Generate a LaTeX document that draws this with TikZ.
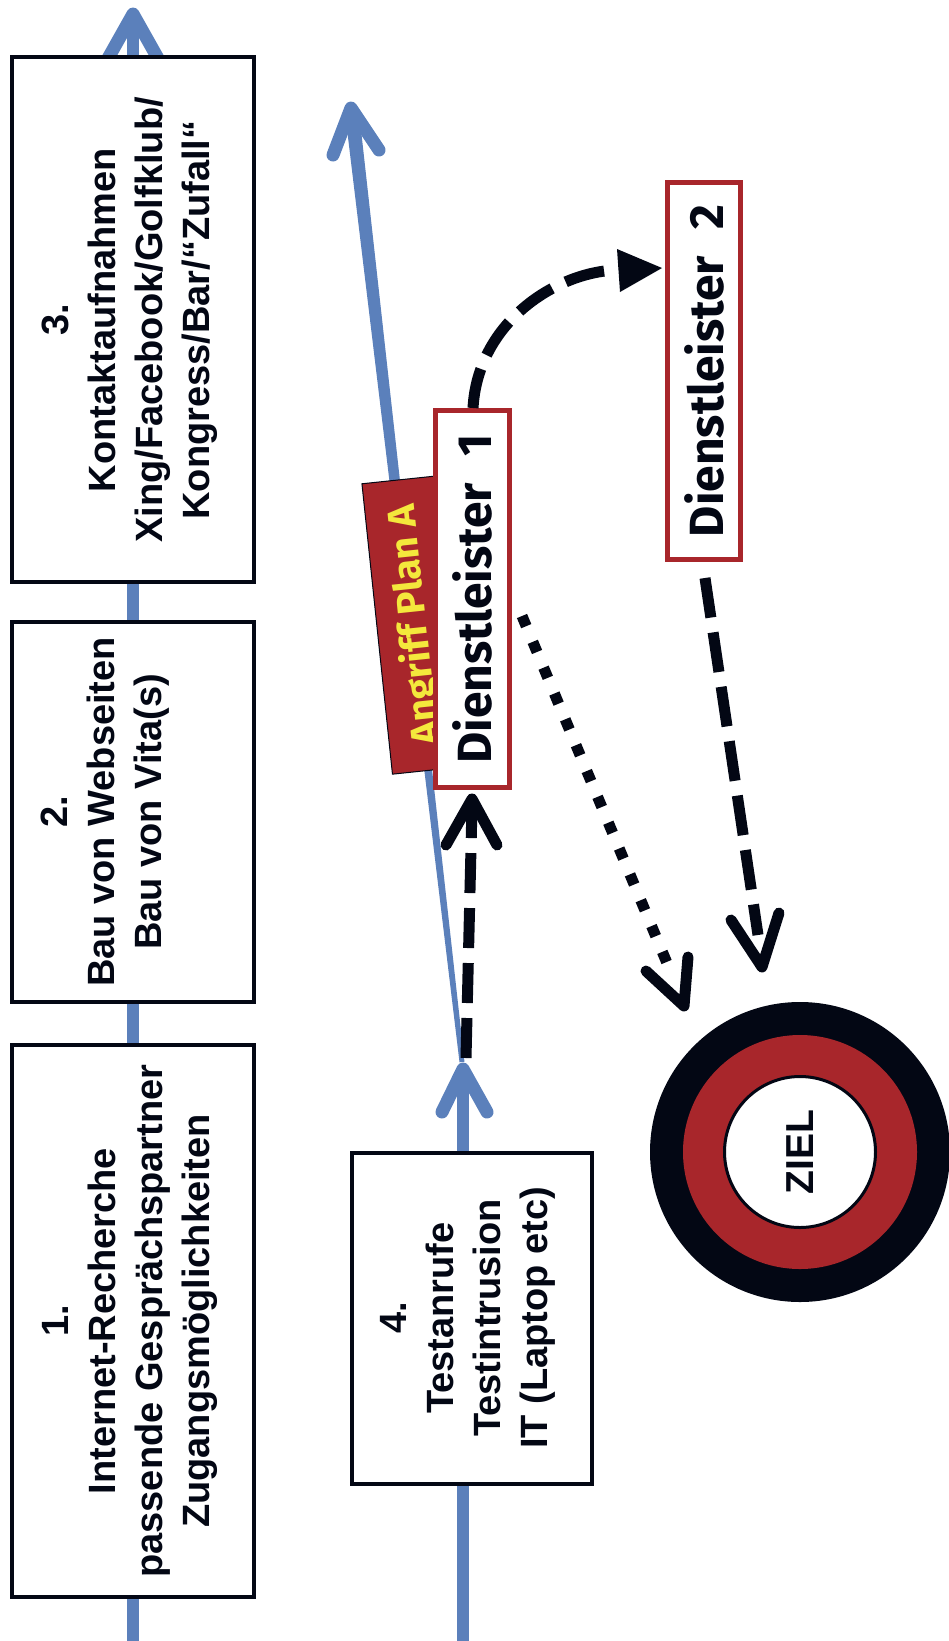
\documentclass[tikz,border=0pt]{standalone}
\usepackage{fontspec}
\setmainfont{Liberation Sans}
\newfontfamily\handfont{Fira Sans}
\usetikzlibrary{calc}
\definecolor{flowblue}{RGB}{91,128,187}
\definecolor{darkred}{RGB}{168,38,43}
\definecolor{inkblack}{RGB}{3,7,20}
\definecolor{labelyellow}{RGB}{244,232,60}
\begin{document}
\begin{tikzpicture}[x=1pt,y=-1pt,
  phasebox/.style={draw=inkblack, line width=4pt, fill=white, rotate=90, inner sep=0pt},
  phasetext/.style={rotate=90, align=center, inner sep=0pt, text=inkblack,
    font=\bfseries\fontsize{38}{47}\selectfont},
  provider/.style={draw=darkred, line width=5pt, fill=white, rotate=90, inner sep=0pt,
    text=inkblack, font=\handfont\bfseries\fontsize{48}{50}\selectfont},
  flow/.style={draw=flowblue, line width=12pt},
  flowhead/.style={draw=flowblue, line width=13pt, line cap=round, line join=round},
  blackdash/.style={draw=inkblack, line width=11pt, dash pattern=on 40pt off 15pt},
  blackdot/.style={draw=inkblack, line width=11pt, dash pattern=on 11pt off 17pt},
  blackhead/.style={draw=inkblack, line width=11pt, line cap=round, line join=round},
]
\useasboundingbox (0,0) rectangle (949,1641);

% ---------- column 1 flow line ----------
\coordinate (c1bot) at (133,1660);
\coordinate (c1top) at (133,14);
\coordinate (c1l) at (106,62);
\coordinate (c1r) at (160,62);
\draw[flow] (c1bot) -- (c1top);
\draw[flowhead] (c1l) -- (c1top) -- (c1r);

% ---------- column 2 flow line ----------
\coordinate (c2bot) at (463,1660);
\coordinate (c2top) at (463,1069);
\coordinate (c2l) at (442,1112);
\coordinate (c2r) at (487,1112);
\draw[flow] (c2bot) -- (c2top);
\draw[flowhead] (c2l) -- (c2top) -- (c2r);

% ---------- slanted flow line (tapered) ----------
\coordinate (sB) at (462,1062);
\coordinate (sT) at (352,112);
\coordinate (sTip) at (351,108);
\coordinate (sl) at (333,155);
\coordinate (sr) at (379,150);
\fill[flowblue] ($(sB)!2.5pt!90:(sT)$) -- ($(sT)!7pt!-90:(sB)$) -- ($(sT)!7pt!90:(sB)$) -- ($(sB)!2.5pt!-90:(sT)$) -- cycle;
\draw[flowhead] (sl) -- (sTip) -- (sr);

% ---------- phase boxes ----------
\node[phasebox, minimum width=525pt, minimum height=242pt] (b3) at (133,319.5) {};
\node[phasebox, minimum width=380pt, minimum height=242pt] (b2) at (133,812) {};
\node[phasebox, minimum width=552pt, minimum height=242pt] (b1) at (133,1321) {};
\node[phasebox, minimum width=331pt, minimum height=240pt] (b4) at (472,1318.5) {};

\node[phasetext] (t3) at (130,320) {3.\\Kontaktaufnahmen\\Xing/Facebook/Golfklub/\\Kongress/Bar/“Zufall“};
\node[phasetext] (t2) at (105,812) {2.\\Bau von Webseiten\\Bau von Vita(s)};
\node[phasetext] (t1) at (130,1321) {1.\\Internet-Recherche\\passende Gesprächspartner\\Zugangsmöglichkeiten};
\node[phasetext] (t4) at (468,1318) {4.\\Testanrufe\\Testintrusion\\IT (Laptop etc)};

% ---------- label ----------
\node[fill=darkred, draw=inkblack, line width=1pt, rotate=96, minimum width=292pt,
  minimum height=76pt, inner sep=0pt, text=labelyellow,
  font=\handfont\bfseries\fontsize{39}{42}\selectfont] (plan) at (415,625) {Angriff Plan A};

% ---------- providers ----------
\node[provider, minimum width=377pt, minimum height=74pt] (d1) at (472.5,599) {Dienstleister\hspace{0.55em}1};
\node[provider, minimum width=377pt, minimum height=73pt] (d2) at (704,371) {Dienstleister\hspace{0.55em}2};

% ---------- black connectors ----------
% test phase -> provider 1
\coordinate (a1s) at (466,1058);
\coordinate (a1e) at (472,806);
\coordinate (a1tip) at (472,799);
\coordinate (a1l) at (446,845);
\coordinate (a1r) at (497,845);
\draw[blackdash] (a1s) -- (a1e);
\draw[blackhead] (a1l) -- (a1tip) -- (a1r);

% provider 1 -> provider 2 (curved)
\coordinate (a2s) at (473,408);
\coordinate (a2e) at (620,270);
\draw[blackdash] (a2s) .. controls (478,320) and (560,270) .. (a2e);
\fill[inkblack] (662,268) -- (617,249) -- (620,292) -- cycle;

% provider 1 -> target (dotted)
\coordinate (a3s) at (522,616);
\coordinate (a3e) at (672,975);
\coordinate (a3tip) at (684,1006);
\coordinate (a3l) at (646,971);
\coordinate (a3r) at (688,957);
\draw[blackdot] (a3s) -- (a3e);
\draw[blackhead] (a3l) -- (a3tip) -- (a3r);

% provider 2 -> target (dashed)
\coordinate (a4s) at (705,578);
\coordinate (a4e) at (758,935);
\coordinate (a4tip) at (762,967);
\coordinate (a4l) at (731,920);
\coordinate (a4r) at (779,913);
\draw[blackdash] (a4s) -- (a4e);
\draw[blackhead] (a4l) -- (a4tip) -- (a4r);

% ---------- target ----------
\node[circle, fill=inkblack, minimum size=300pt, inner sep=0pt] (zielout) at (800,1152) {};
\node[circle, fill=darkred, minimum size=234pt, inner sep=0pt] (zielring) at (zielout) {};
\node[circle, fill=white, draw=inkblack, line width=3pt, minimum size=151pt, inner sep=0pt,
  rotate=90, text=inkblack, font=\bfseries\fontsize{39}{47}\selectfont] (ziel) at (zielout) {ZIEL};
\end{tikzpicture}
\end{document}
